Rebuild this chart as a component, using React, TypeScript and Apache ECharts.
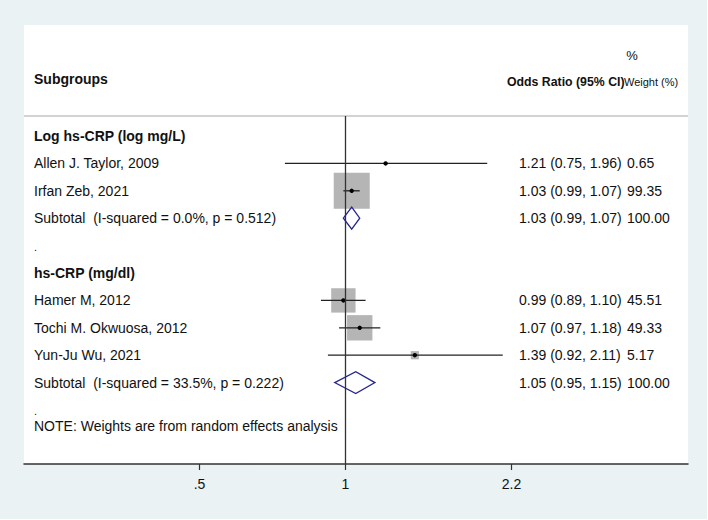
import React, { useEffect, useRef } from "react";
import * as echarts from "echarts";

// ---- data ----
const rowLabels = [
  "Log hs-CRP (log mg/L)",
  "Allen J. Taylor, 2009",
  "Irfan Zeb, 2021",
  "Subtotal  (I-squared = 0.0%, p = 0.512)",
  ".",
  "hs-CRP (mg/dl)",
  "Hamer M, 2012",
  "Tochi M. Okwuosa, 2012",
  "Yun-Ju Wu, 2021",
  "Subtotal  (I-squared = 33.5%, p = 0.222)",
  ".",
];
const rowKinds = ["group", "study", "study", "subtotal", "blank", "group", "study", "study", "study", "subtotal", "blank"];
const oddsRatios = [null, 1.21, 1.03, 1.03, null, null, 0.99, 1.07, 1.39, 1.05, null];
const lowerCI = [null, 0.75, 0.99, 0.99, null, null, 0.89, 0.97, 0.92, 0.95, null];
const upperCI = [null, 1.96, 1.07, 1.07, null, null, 1.1, 1.18, 2.11, 1.15, null];
const weights = [null, 0.65, 99.35, 100.0, null, null, 45.51, 49.33, 5.17, 100.0, null];
const xTickValues = [0.5, 1, 2.2];
const xTickLabels = [".5", "1", "2.2"];
const noteText = "NOTE: Weights are from random effects analysis";
const xRange = [0.2173, 5.085];

const FONT = "'Liberation Sans', Arial, sans-serif";
const TEXT = "#111";

export default function App() {
  const ref = useRef<HTMLDivElement>(null);
  useEffect(() => {
    if (!ref.current) return;
    const chart = echarts.init(ref.current, null, { renderer: "svg" });

    const studyData: any[] = [];
    const subtotalData: any[] = [];
    const textData: any[] = [];
    rowKinds.forEach((k, i) => {
      textData.push([0, i]);
      if (k === "study")
        studyData.push([Math.log(lowerCI[i] as number), Math.log(upperCI[i] as number), Math.log(oddsRatios[i] as number), i, weights[i]]);
      if (k === "subtotal")
        subtotalData.push([Math.log(lowerCI[i] as number), Math.log(upperCI[i] as number), Math.log(oddsRatios[i] as number), i]);
    });
    const maxW = Math.max(...(weights.filter((w, i) => rowKinds[i] === "study") as number[]));
    const sizeK = 36 / Math.sqrt(maxW);
    const tickLn = xTickValues.map((v) => Math.log(v));

    const option: any = {
      animation: false,
      backgroundColor: "#ffffff",
      graphic: [
        { type: "rect", z: -10, shape: { x: 0, y: 0, width: 707, height: 519 }, style: { fill: "#eaf2f3" } },
        { type: "rect", z: -9, shape: { x: 24, y: 25, width: 664, height: 91 }, style: { fill: "#ffffff" } },
        { type: "line", z: 5, shape: { x1: 24, y1: 116, x2: 688, y2: 116 }, style: { stroke: "#c4c4c4", lineWidth: 1.5 } },
        { type: "text", x: 34, y: 79, style: { text: "Subgroups", font: `bold 14px ${FONT}`, fill: TEXT, verticalAlign: "middle" } },
        { type: "text", x: 632, y: 55, style: { text: "%", font: `13px ${FONT}`, fill: TEXT, align: "center", verticalAlign: "middle" } },
        { type: "text", x: 507, y: 82, style: { text: "Odds Ratio (95% CI)", font: `bold 12.3px ${FONT}`, fill: TEXT, verticalAlign: "middle" } },
        { type: "text", x: 624, y: 82, style: { text: "Weight (%)", font: `11px ${FONT}`, fill: TEXT, verticalAlign: "middle" } },
      ],
      grid: { left: 24, right: 20, top: 116, bottom: 56, show: true, backgroundColor: "#ffffff", borderWidth: 0 },
      xAxis: {
        type: "value",
        min: Math.log(xRange[0]),
        max: Math.log(xRange[1]),
        splitLine: { show: false },
        axisLine: { show: true, onZero: false, lineStyle: { color: "#333", width: 1.5 } },
        axisTick: { show: true, customValues: tickLn, length: 6, lineStyle: { color: "#333", width: 1.2 } },
        axisLabel: {
          customValues: tickLn,
          margin: 13,
          color: TEXT,
          fontSize: 14,
          fontFamily: FONT,
          formatter: (v: number) => {
            const idx = tickLn.findIndex((t) => Math.abs(t - v) < 1e-6);
            return idx >= 0 ? xTickLabels[idx] : "";
          },
        },
      },
      yAxis: { type: "value", inverse: true, min: -0.73, max: 11.97, show: false },
      series: [
        {
          type: "custom",
          name: "text",
          z: 1,
          encode: { x: 0, y: 1 },
          data: textData,
          markLine: {
            silent: true,
            symbol: "none",
            label: { show: false },
            lineStyle: { color: "#333", width: 1.3, type: "solid" },
            data: [{ xAxis: 0 }],
          },
          renderItem: (params: any, api: any) => {
            const i = api.value(1);
            const y = api.coord([0, i])[1];
            const kind = rowKinds[i];
            const children: any[] = [
              {
                type: "text",
                x: 34,
                y: kind === "blank" ? y + 1 : y,
                style: {
                  text: rowLabels[i],
                  font: `${kind === "group" ? "bold " : ""}${kind === "blank" ? 11 : 14}px ${FONT}`,
                  fill: TEXT,
                  verticalAlign: "middle",
                },
              },
            ];
            if (oddsRatios[i] != null) {
              children.push({
                type: "text",
                x: 519,
                y,
                style: {
                  text: `${(oddsRatios[i] as number).toFixed(2)} (${(lowerCI[i] as number).toFixed(2)}, ${(upperCI[i] as number).toFixed(2)})`,
                  font: `14px ${FONT}`,
                  fill: TEXT,
                  verticalAlign: "middle",
                },
              });
              children.push({
                type: "text",
                x: 627,
                y,
                style: { text: (weights[i] as number).toFixed(2), font: `14px ${FONT}`, fill: TEXT, verticalAlign: "middle" },
              });
            }
            if (i === rowKinds.length - 1) {
              children.push({
                type: "text",
                x: 34,
                y: y + 16,
                style: { text: noteText, font: `14px ${FONT}`, fill: TEXT, verticalAlign: "middle" },
              });
            }
            return { type: "group", children };
          },
        },
        {
          type: "custom",
          name: "studies",
          z: 3,
          encode: { x: [0, 1, 2], y: 3 },
          data: studyData,
          renderItem: (params: any, api: any) => {
            const lo = api.coord([api.value(0), api.value(3)]);
            const hi = api.coord([api.value(1), api.value(3)]);
            const c = api.coord([api.value(2), api.value(3)]);
            const s = sizeK * Math.sqrt(api.value(4));
            return {
              type: "group",
              children: [
                { type: "rect", shape: { x: c[0] - s / 2, y: c[1] - s / 2, width: s, height: s }, style: { fill: "#b5b5b5" } },
                { type: "line", shape: { x1: lo[0], y1: lo[1], x2: hi[0], y2: hi[1] }, style: { stroke: "#222", lineWidth: 1.3 } },
                { type: "circle", shape: { cx: c[0], cy: c[1], r: 2.2 }, style: { fill: "#000" } },
              ],
            };
          },
        },
        {
          type: "custom",
          name: "subtotals",
          z: 4,
          encode: { x: [0, 1, 2], y: 3 },
          data: subtotalData,
          renderItem: (params: any, api: any) => {
            const lo = api.coord([api.value(0), api.value(3)]);
            const hi = api.coord([api.value(1), api.value(3)]);
            const c = api.coord([api.value(2), api.value(3)]);
            const h = 11;
            return {
              type: "polygon",
              shape: { points: [[lo[0], lo[1]], [c[0], c[1] - h], [hi[0], hi[1]], [c[0], c[1] + h]] },
              style: { fill: "none", stroke: "#26268f", lineWidth: 1.3 },
            };
          },
        },
      ],
    };
    chart.setOption(option);
    return () => chart.dispose();
  }, []);
  return (
    <div
      ref={ref}
      style={{ position: "fixed", left: 0, top: 0, width: 708, height: 520 }}
    />
  );
}
